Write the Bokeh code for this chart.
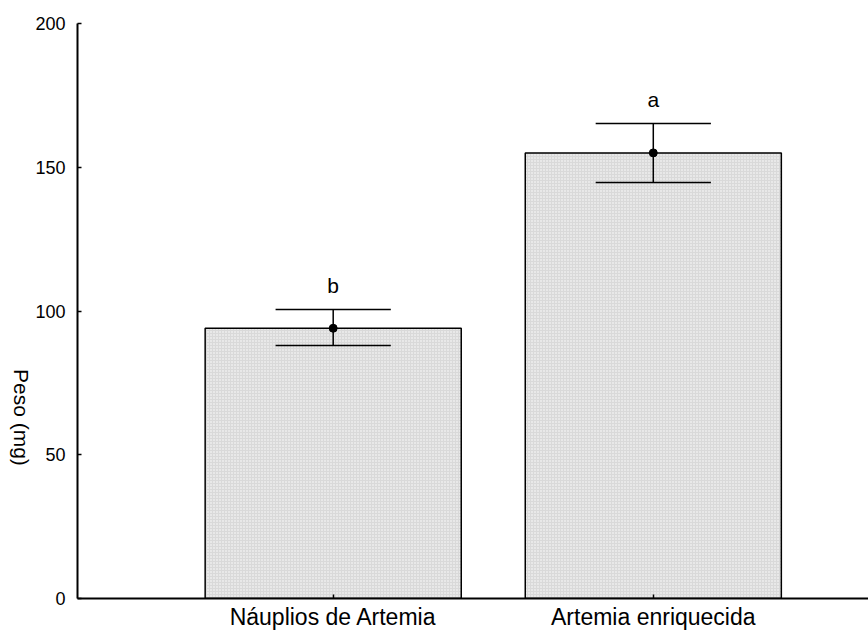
import math
from bokeh.plotting import figure
from bokeh.layouts import row
from bokeh.models import FixedTicker, Label, ColumnDataSource
from bokeh.core.properties import value
from bokeh.embed import file_html
from bokeh.resources import INLINE

# ---- data ----
categories = ["Náuplios de Artemia", "Artemia enriquecida"]
means = [94.0, 155.0]
upper = [100.5, 165.2]
lower = [88.0, 144.7]
letters = ["b", "a"]
y_ticks = [0, 50, 100, 150, 200]
y_label = "Peso (mg)"

FONT = "Liberation Sans"
xs = [i + 1 for i in range(len(categories))]
Y_RANGE = (0, 200)
TOP, BOTTOM, H = 23, 37, 635
LAB_W = 32

src = ColumnDataSource(dict(
    x=xs, mean=means, upper=upper, lower=lower,
    cap_l=[x - 0.18 for x in xs], cap_r=[x + 0.18 for x in xs],
    letter=letters, letter_y=[u + 8.5 for u in upper],
))

# ---- narrow strip that carries the y-axis title (reads top-to-bottom) ----
lab = figure(width=LAB_W, height=H, x_range=(0, LAB_W), y_range=Y_RANGE,
             output_backend="svg", toolbar_location=None,
             x_axis_location=None, y_axis_location=None,
             min_border_left=0, min_border_right=0,
             min_border_top=TOP, min_border_bottom=BOTTOM)
lab.outline_line_color = None
lab.xgrid.grid_line_color = None
lab.ygrid.grid_line_color = None
lab.add_layout(Label(x=21, y=63, text=y_label, angle=-math.pi / 2,
                     text_font=FONT, text_font_size="21px",
                     text_align="center", text_baseline="middle",
                     text_color="black"))

# ---- main chart ----
p = figure(width=868 - LAB_W, height=H, x_range=(0.2012, 2.6723), y_range=Y_RANGE,
           output_backend="svg", toolbar_location=None,
           min_border_left=77 - LAB_W, min_border_right=0,
           min_border_top=TOP, min_border_bottom=BOTTOM)
p.outline_line_color = None
p.xgrid.grid_line_color = None
p.ygrid.grid_line_color = None
p.background_fill_color = "white"
p.border_fill_color = "white"

# bars
p.vbar(x="x", top="mean", bottom=0, width=0.8, source=src,
       fill_color="#d9d9d9", line_color="black", line_width=1.5,
       hatch_pattern="dot", hatch_color="white", hatch_scale=3, hatch_weight=1)

# error bars
p.segment(x0="x", y0="lower", x1="x", y1="upper", source=src,
          line_color="black", line_width=1.5)
p.segment(x0="cap_l", y0="upper", x1="cap_r", y1="upper", source=src,
          line_color="black", line_width=1.5)
p.segment(x0="cap_l", y0="lower", x1="cap_r", y1="lower", source=src,
          line_color="black", line_width=1.5)
p.scatter(x="x", y="mean", source=src, size=8, color="black")

# significance letters
p.text(x="x", y="letter_y", text="letter", source=src,
       text_font=value(FONT), text_font_size="21px", text_color="black",
       text_align="center", text_baseline="alphabetic")

# axes
p.xaxis.ticker = FixedTicker(ticks=xs)
p.xaxis.major_label_overrides = {x: c for x, c in zip(xs, categories)}
p.xaxis.minor_tick_line_color = None
p.xaxis.major_tick_in = 4
p.xaxis.major_tick_out = 0
p.xaxis.major_label_standoff = 5
p.xaxis.major_label_text_font = FONT
p.xaxis.major_label_text_font_size = "23px"
p.xaxis.major_label_text_color = "black"
p.xaxis.axis_line_width = 2
p.xaxis.axis_line_color = "black"
p.xaxis.major_tick_line_color = "black"
p.xaxis.major_tick_line_width = 1.5

p.yaxis.ticker = FixedTicker(ticks=y_ticks)
p.yaxis.minor_tick_line_color = None
p.yaxis.major_tick_in = 4
p.yaxis.major_tick_out = 0
p.yaxis.major_label_standoff = 12
p.yaxis.major_label_text_font = FONT
p.yaxis.major_label_text_font_size = "18px"
p.yaxis.major_label_text_color = "black"
p.yaxis.axis_line_width = 2
p.yaxis.axis_line_color = "black"
p.yaxis.major_tick_line_color = "black"
p.yaxis.major_tick_line_width = 1.5

layout = row(lab, p, spacing=0)
open("out.html", "w").write(file_html(layout, INLINE))
